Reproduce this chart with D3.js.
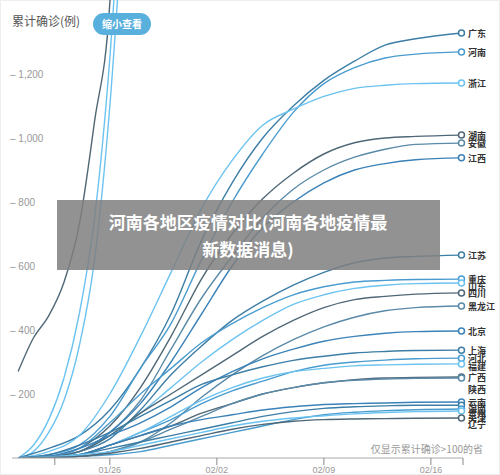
<!DOCTYPE html>
<html><head><meta charset="utf-8">
<script src="https://cdn.jsdelivr.net/npm/d3@7"></script>
<style>body{margin:0;background:#fff}svg{display:block;font-family:"Noto Sans CJK SC",sans-serif}</style>
</head><body><div id="chart"></div>
<script>
const days = [0,2,4,6,8,10,12,14,16,18,20,22,24,26,29];
const provinces = ["广东","河南","浙江","湖南","安徽","江西","江苏","重庆","山东","四川","黑龙江","北京","上海","河北","福建","广西","陕西","云南","海南","贵州","天津","辽宁"];
const values = [
  [0,30,70,150,280,450,680,860,1000,1100,1180,1240,1290,1310,1328],
  [0,10,40,130,280,420,620,800,950,1080,1170,1220,1250,1262,1269],
  [0,20,70,200,380,580,780,930,1040,1090,1130,1155,1165,1170,1172],
  [0,5,30,100,220,380,560,700,810,890,950,985,1000,1005,1009],
  [0,5,20,80,180,340,500,630,750,840,900,940,965,980,984],
  [0,5,20,80,170,300,450,600,720,800,860,900,920,932,938],
  [0,3,20,60,150,260,350,430,490,540,580,610,625,630,634],
  [0,5,30,110,200,280,360,420,470,510,535,550,555,558,559],
  [0,5,20,70,140,220,300,370,430,480,510,530,540,545,547],
  [0,5,20,70,140,200,260,320,380,430,470,495,505,512,516],
  [0,2,5,20,50,110,190,260,320,370,410,440,460,470,475],
  [0,5,30,70,110,160,220,270,310,340,365,380,390,395,397],
  [0,10,40,80,130,180,230,260,285,305,318,328,333,336,337],
  [0,2,10,40,80,120,170,210,240,270,290,300,306,310,312],
  [0,2,10,40,80,130,180,220,250,270,280,288,291,293,294],
  [0,2,10,40,70,100,140,170,200,220,235,245,250,252,253],
  [0,2,5,20,50,90,130,170,200,220,235,243,247,249,250],
  [0,2,10,40,70,100,120,135,150,160,167,170,172,174,175],
  [0,2,10,30,50,70,90,110,130,145,155,160,163,165,165],
  [0,2,5,10,20,40,60,80,100,120,135,143,148,151,153],
  [0,3,10,20,40,60,80,100,115,125,132,138,142,145,147],
  [0,2,5,15,30,50,70,90,105,115,120,122,123,124,125]
];
const hubeiDays = [0,1,2,3,4,5,6,7,8];
const hubei = [
  [270,375,444,549,729,1052,1423,2714,3554],
  [0,40,120,250,450,750,1250,2000,2800],
  [0,20,80,180,350,620,1100,1800,2600]
];
const palette = ["#3d7ea6","#4a9ccf","#6cc3f0","#4f6776","#5a8aa8","#3b82b8"];
const dateTicks = [{d:6,t:"01/26"},{d:13,t:"02/02"},{d:20,t:"02/09"},{d:27,t:"02/16"}];
const yTicks = [200,400,600,800,1000,1200];

const W = 500, H = 475;
const svg = d3.select("#chart").append("svg").attr("width", W).attr("height", H);
svg.append("rect").attr("x",0.5).attr("y",0.5).attr("width",W-1).attr("height",H-1).attr("fill","#fff").attr("stroke","#eee");
const x = d3.scaleLinear().domain([-0.4, 29.1]).range([12, 463]);
const y = d3.scaleLinear().domain([0, 1200]).range([458, 74]);

svg.append("defs").append("clipPath").attr("id","c").append("rect").attr("x",0).attr("y",0).attr("width",W).attr("height",458);

svg.selectAll(".yt").data(yTicks).join("text")
  .attr("x", 10).attr("y", d => y(d) + 4).attr("fill", "#999").attr("font-size", 10)
  .attr("font-family","Liberation Sans, sans-serif")
  .text(d => "– " + d3.format(",")(d));
svg.append("text").attr("x", 12).attr("y", 26).attr("fill", "#555").attr("font-size", 12).text("累计确诊(例)");

const line = d3.line().curve(d3.curveMonotoneX);
const g = svg.append("g").attr("clip-path","url(#c)");
hubei.forEach((s, i) => {
  g.append("path").attr("fill","none").attr("stroke", i === 0 ? "#4f6776" : "#6cc3f0").attr("stroke-width",1.4)
    .attr("d", line(s.map((v, j) => [x(hubeiDays[j]), y(v)])));
});
values.forEach((s, i) => {
  g.append("path").attr("fill","none").attr("stroke", palette[i % palette.length]).attr("stroke-width",1.4)
    .attr("d", line(s.map((v, j) => [x(days[j]), y(v)])));
});

const ax = svg.append("g");
ax.append("line").attr("x1",12).attr("x2",463).attr("y1",458).attr("y2",458).attr("stroke","#aaa");
[{d:2.4},...dateTicks,{d:29.1}].forEach(t => {
  ax.append("line").attr("x1",x(t.d)).attr("x2",x(t.d)).attr("y1",458).attr("y2",465).attr("stroke","#888");
  if (t.t) ax.append("text").attr("x",x(t.d)).attr("y",473).attr("text-anchor","middle")
    .attr("fill","#999").attr("font-size",9).attr("font-family","Liberation Sans, sans-serif").text(t.t);
});
svg.append("text").attr("x",483).attr("y",453).attr("text-anchor","end").attr("fill","#999").attr("font-size",10).text("仅显示累计确诊>100的省");

const labelY = [33,52,83,135,143,158,255,279,286,293,306,331,350,358,366,377,389,402,408,413,418,424];
values.forEach((s, i) => {
  const cy = y(s[s.length-1]);
  svg.append("circle").attr("cx",x(29)).attr("cy",cy).attr("r",3).attr("fill","#fff")
    .attr("stroke", palette[i % palette.length]).attr("stroke-width",1.5);
  svg.append("text").attr("x",468).attr("y",labelY[i]+3.5).attr("font-size",9).attr("font-weight","bold")
    .attr("fill","#333").text(provinces[i]);
});

svg.append("rect").attr("x",93).attr("y",13).attr("width",58).attr("height",22).attr("rx",11).attr("fill","#5ab0dc");
svg.append("text").attr("x",122).attr("y",28).attr("text-anchor","middle").attr("fill","#fff").attr("font-size",10).attr("font-weight","bold").text("缩小查看");

svg.append("rect").attr("x",57).attr("y",200).attr("width",383).attr("height",70).attr("fill","#7f7f7f").attr("opacity",0.85);
svg.append("text").attr("x",248).attr("y",229).attr("text-anchor","middle").attr("fill","#fff").attr("font-size",17).attr("font-weight","bold").text("河南各地区疫情对比(河南各地疫情最");
svg.append("text").attr("x",248).attr("y",256).attr("text-anchor","middle").attr("fill","#fff").attr("font-size",17).attr("font-weight","bold").text("新数据消息)");
</script></body></html>
